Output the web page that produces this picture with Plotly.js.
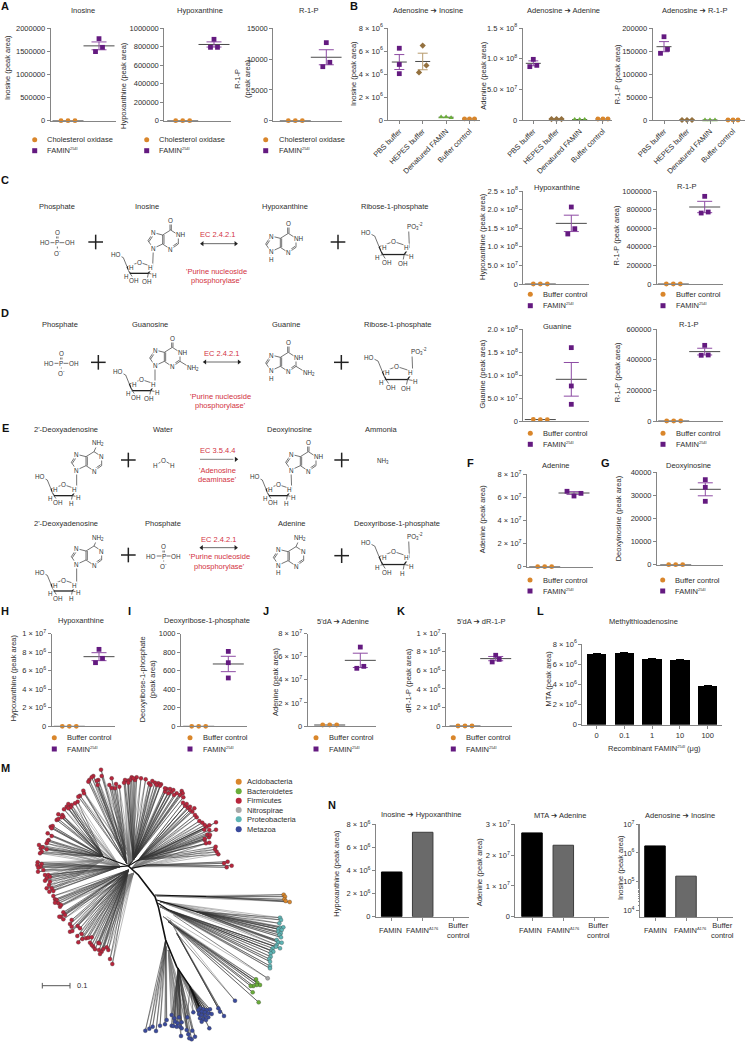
<!DOCTYPE html>
<html><head><meta charset="utf-8">
<script src="https://cdn.plot.ly/plotly-3.0.1.min.js"></script>
<style>html,body{margin:0;padding:0;background:#fff}#c{width:745px;height:1042px}</style>
</head><body><div id="c"></div>
<script>
// ---------- DATA ----------
const sci=(m,e)=>m+' × 10<sup>'+e+'</sup>';
const zeros=[0,0,0];
// A
const aInosine=[1776000,1495000,1588000], aInosineStat=[1620000,85000];
const aHypox=[881000,794000,794000], aHypoxStat=[825000,28000];
const aR1P=[12670,8770,9480], aR1PStat=[10300,1220];
// B
const bInoPBS=[6240000,4830000,4030000], bInoPBSStat=[5040000,650000];
const bInoHEPES=[6470000,4750000,4140000], bInoHEPESStat=[5090000,720000];
const bInoDen=[260000,260000,200000], bInoBuf=[90000,90000,90000];
const bAdePBS=[98900000,87000000,89100000], bAdePBSStat=[92400000,4000000];
const bAdeHEPES=[1600000,1600000,1600000], bAdeDen=[800000,800000,800000], bAdeBuf=[1600000,1600000,1600000];
const bR1PPBS=[181000,145000,153600], bR1PPBSStat=[159400,11000];
const bCats=['PBS buffer','HEPES buffer','Denatured FAMIN','Buffer control'];
// C, D
const cHypox=[207000000,134400000,148700000], cHypoxStat=[163000000,22000000];
const cR1P=[942600,763000,774000], cR1PStat=[828000,61000];
const dGua=[160000000,76400000,36400000], dGuaStat=[90900000,36700000];
const dGuaBuf=[3600000,2900000,2900000];
const dR1P=[495000,430000,432000], dR1PStat=[454000,22000];
// F, G
const fAde=[65300000,61200000,63500000], fAdeStat=[63800000,1200000];
const gDeoxy=[36820,33500,27440], gDeoxyStat=[32640,2816];
// H–K
const hHypox=[8310000,6870000,7340000], hHypoxStat=[7520000,430000];
const iDR1P=[809,687,522], iDR1PStat=[673,83];
const jAde=[68400000,50000000,51700000], jAdeStat=[56900000,6200000], jAdeBuf=[870000,870000,870000];
const kDR1P=[7630000,6910000,7190000], kDR1PStat=[7270000,230000];
// L
const lDoses=['0','0.1','1','10','100'];
const lMTA=[6980000,7140000,6480000,6380000,3830000];
const lMTAerr=[40000,50000,40000,40000,40000];
// N
const nCats=['FAMIN','FAMIN<sup><span style="font-size:4px">Δ176</span></sup>','Buffer<br>control'];
const nHypox=[3870000,7310000,0];
const nAde=[27200000,23200000,0];
const nIno=[1750000,153000,null];
// M – tree (leaves)
const firmA=[[655,283],[650,275],[645,268],[647,260],[618,250],[628,248],[614,240],[627,232],[622,224],[614,236],[630,225],[648,209],[628,210],[613,209],[620,200],[628,196],[648,187],[614,195],[607,188],[598,183],[590,172],[585,165],[577,155],[583,145],[570,150],[563,143],[555,137],[549,128],[560,132],[570,140]];
const firmR=[[683,305],[695,317],[680,322],[672,310]];
const firmB=[[545,93],[548,100],[540,105],[550,112],[530,100],[522,105],[515,95],[505,100],[495,95],[500,87],[510,87],[520,90],[495,85],[483,73],[475,70],[465,68],[457,63],[447,70],[452,75],[470,75],[480,77],[437,58],[423,55],[410,52],[395,52],[405,60],[390,60],[383,62],[375,60],[372,68],[385,68],[400,55]];
const firmC=[[345,85],[335,84],[348,72],[335,55],[358,80],[328,75],[303,29],[305,48],[295,60],[293,75],[280,48],[290,62],[268,60],[265,65],[275,52],[250,92],[240,107],[252,100],[235,110]];
const firmD=[[233,125],[225,130],[215,135],[205,132],[212,142],[200,140],[192,148],[205,145],[187,165],[175,163],[170,180],[190,170],[175,177],[185,172],[152,200],[158,198],[155,205],[143,220],[155,228],[146,240],[143,243],[140,250],[117,255],[122,265],[128,262],[125,275],[120,280],[140,268]];
const firmE=[[113,307],[112,315],[125,312],[122,320],[115,323],[130,330],[114,335],[135,345],[145,345],[150,350],[140,355],[135,362],[150,365],[147,375],[140,385],[155,385],[148,395],[160,393]];
const firmF=[[160,408],[165,418],[170,420],[175,430],[165,428],[180,440],[183,435],[190,457],[183,470],[190,478],[178,470],[195,465],[215,480],[210,492],[215,500],[210,515],[217,513],[233,498],[240,505],[245,522],[232,528],[235,547],[247,537],[258,535],[265,533],[275,532],[270,548],[280,560],[275,555],[295,548],[298,550],[285,568],[297,570],[305,575],[320,562],[325,570],[310,567],[300,582],[330,597],[337,612]];
const acido=[[851,404],[855,410],[853,418],[857,423],[869,426]];
const proteoA=[[840,473],[843,480],[838,490],[840,503],[850,502],[835,507],[845,510],[835,515],[842,520],[838,525],[843,532],[830,540],[835,547],[845,548],[830,555]];
const proteoB=[[840,565],[828,560],[818,565],[815,572],[820,575],[812,580],[812,590],[808,597],[810,605],[810,618],[810,625]];
const nitro=[[803,655]];
const bacter=[[768,658],[772,668],[780,675],[770,675],[760,678],[752,678],[758,697],[776,727]];
const metaA=[[600,745],[610,748],[620,750],[630,748],[595,750],[605,755],[615,757],[625,760],[635,762],[597,762],[605,765],[615,768],[625,772],[600,775],[610,778],[618,780],[605,785],[580,757],[562,772],[628,805]];
const metaB=[[537,772],[523,775],[515,765],[525,785],[515,797],[520,798],[533,790],[545,787],[530,800],[540,800],[545,805],[560,810],[577,812],[565,823],[585,830],[575,838],[568,835],[543,828]];
const metaC=[[500,780],[495,793],[480,797],[468,813],[458,800],[448,806],[436,812]];
const metaD=[[705,722],[655,745],[660,755],[672,768]];
const treeBackbone=[[385,318],[415,345],[465,410],[475,440],[497,540],[530,620],[570,680],[600,745]];
const treeBranches=[[[465,405],[620,410]],[[470,420],[590,455]],[[310,290],[385,318]],[[360,320],[385,318]],[[415,300],[385,318]],[[400,300],[385,318]],[[440,315],[395,325]],[[475,430],[505,450]]];
const treeLegend=['Acidobacteria','Bacteroidetes','Firmicutes','Nitrospirae','Proteobacteria','Metazoa'];

// ---------- STYLE ----------
const W=745,H=1042,FONT='"Liberation Sans", Arial, sans-serif',TXT='#2e2e2e';
const ORANGE='#d9862b',PURPLE='#641a80',EPURPLE='#8d4ba3',BROWN='#94713f',GREEN='#6aad3a',AXC='#858585';
const TREEC={a:'#d9862b',b:'#6aad3a',f:'#b8263c',n:'#a8a8a8',p:'#5fb5b5',m:'#3a4a9c'};

const traces=[],annotations=[],layout={};
function txt(x,y,text,o={}){const a={xref:'paper',yref:'paper',x:x/W,y:1-y/H,text,showarrow:false,
  xanchor:o.anchor||'center',yanchor:'middle',textangle:o.rot||0,align:'center',
  font:{family:FONT,size:o.size||7.5,color:o.color||TXT,weight:o.bold?700:400}};
  if(o.bg){a.bgcolor=o.bg;a.borderpad=0;}
  annotations.push(a);}

layout.xaxis={domain:[0,1],range:[0,W],visible:false,fixedrange:true};
layout.yaxis={domain:[0,1],range:[H,0],visible:false,fixedrange:true};
layout.xaxis2={domain:[0,320/W],range:[0,960],visible:false,anchor:'y2'};
layout.yaxis2={domain:[0,282/H],range:[846,0],visible:false,anchor:'x2'};

// ---------- PANELS ----------
const STY={o:{c:ORANGE,s:'circle',e:ORANGE},p:{c:PURPLE,s:'square',e:EPURPLE},b:{c:BROWN,s:'diamond',e:'#b79a6c'},g:{c:GREEN,s:'triangle-up',e:GREEN}};
let axN=3;
function newAxes(box,xr,extraX,extraY){
  const [l,r,t,z]=box,n=axN++;
  layout['xaxis'+n]=Object.assign({domain:[l/W,r/W],range:xr,anchor:'y'+n,showline:true,linecolor:AXC,linewidth:1,zeroline:false,showgrid:false,
    ticks:'',showticklabels:false,tickfont:{family:FONT,size:7.5,color:TXT},ticklen:3,tickcolor:AXC,fixedrange:true},extraX||{});
  layout['yaxis'+n]=Object.assign({domain:[1-z/H,1-t/H],anchor:'x'+n,showline:true,linecolor:AXC,linewidth:1,zeroline:false,showgrid:false,
    ticks:'outside',ticklen:3,tickcolor:AXC,tickfont:{family:FONT,size:7.5,color:TXT},tickmode:'array',fixedrange:true},extraY||{});
  return n;
}
function dots(p){
  const [l,r]=p.box,[c1,c2]=p.c,u=c2-c1;
  const hi=p.cats?p.cats.length:2;
  const xr=[1-(c1-l)/u,hi+(r-(c1+u*(hi-1)))/u];
  const cats=p.cats?{ticks:'outside',showticklabels:true,tickmode:'array',tickvals:p.cats.map((_,i)=>i+1),ticktext:p.cats,tickangle:-45}:{};
  const n=newAxes(p.box,xr,cats,{range:[0,p.ymax],tickvals:p.tv,ticktext:p.tl});
  p.groups.forEach((g,i)=>{
    const st=STY[g.k],c=i+1,hw=(p.hw||15.5)/u;
    const m=g.stat?g.stat[0]:g.vals.reduce((a,b)=>a+b,0)/3;
    traces.push({type:'scatter',mode:'lines',xaxis:'x'+n,yaxis:'y'+n,x:[c-hw,c+hw],y:[m,m],line:{color:'#4a4a4a',width:1},cliponaxis:false,hoverinfo:'skip'});
    if(g.stat)traces.push({type:'scatter',mode:'markers',xaxis:'x'+n,yaxis:'y'+n,x:[c],y:[m],marker:{size:1,opacity:0},cliponaxis:false,
      error_y:{type:'data',array:[g.stat[1]],color:st.e,thickness:1,width:p.cap||7.5}});
    traces.push({type:'scatter',mode:'markers',xaxis:'x'+n,yaxis:'y'+n,x:g.vals.map((_,j)=>c+(g.j[j])/u),y:g.vals,cliponaxis:false,
      marker:{color:st.c,symbol:st.s,size:4.8}});
  });
}
const jO=[-7,0,7],jP=[0,-3.5,3.5],jV=[0,0,0],jL=[-5,0,5];
const tenth=['0','5.0 × 10<sup>7</sup>','1.0 × 10<sup>8</sup>','1.5 × 10<sup>8</sup>','2.0 × 10<sup>8</sup>','2.5 × 10<sup>8</sup>'];
const sci6=['0',sci(2,6),sci(4,6),sci(6,6),sci(8,6)];
const sci7=['0',sci(2,7),sci(4,7),sci(6,7),sci(8,7)];
const num=a=>a.map(String);
const two=(vals,stat,buf)=>[{k:'o',vals:buf||zeros,j:jO},{k:'p',vals,stat,j:jP}];

dots({box:[50.7,116,28.3,120.7],c:[68,99],ymax:2000000,tv:[0,500000,1000000,1500000,2000000],tl:num([0,500000,1000000,1500000,2000000]),groups:two(aInosine,aInosineStat)});
dots({box:[164.3,230.7,28.3,120.7],c:[182.7,214],ymax:1000000,tv:[0,200000,400000,600000,800000,1000000],tl:num([0,200000,400000,600000,800000,1000000]),groups:two(aHypox,aHypoxStat)});
dots({box:[273.3,341.7,28.3,120.7],c:[295.3,326.3],ymax:15000,tv:[0,5000,10000,15000],tl:num([0,5000,10000,15000]),groups:two(aR1P,aR1PStat)});
const hb=7.5,capb=5;
dots({box:[388.3,480,28,120],c:[399.3,422.7],hw:hb,cap:capb,cats:bCats,ymax:8000000,tv:[0,2e6,4e6,6e6,8e6],tl:sci6,
  groups:[{k:'p',vals:bInoPBS,stat:bInoPBSStat,j:jV},{k:'b',vals:bInoHEPES,stat:bInoHEPESStat,j:[0,3.7,-3.7]},{k:'g',vals:bInoDen,j:jL},{k:'o',vals:bInoBuf,j:jL}]});
dots({box:[522.7,611.7,28,120],c:[533.3,556.5],hw:hb,cap:capb,cats:bCats,ymax:150000000,tv:[0,5e7,1e8,1.5e8],tl:['0','5.0 × 10<sup>7</sup>','1.0 × 10<sup>8</sup>','1.5 × 10<sup>8</sup>'],
  groups:[{k:'p',vals:bAdePBS,stat:bAdePBSStat,j:[0,-3.5,3.5]},{k:'b',vals:bAdeHEPES,j:jL},{k:'g',vals:bAdeDen,j:jL},{k:'o',vals:bAdeBuf,j:jL}]});
dots({box:[652.7,744.5,28,120],c:[664,687],hw:hb,cap:capb,cats:bCats,ymax:200000,tv:[0,50000,100000,150000,200000],tl:num([0,50000,100000,150000,200000]),
  groups:[{k:'p',vals:bR1PPBS,stat:bR1PPBSStat,j:[0,-3.5,3.5]},{k:'b',vals:zeros,j:jL},{k:'g',vals:zeros,j:jL},{k:'o',vals:zeros,j:jL}]});
dots({box:[523.3,589.3,191,284],c:[540.3,571.3],ymax:250000000,tv:[0,5e7,1e8,1.5e8,2e8,2.5e8],tl:tenth,groups:two(cHypox,cHypoxStat)});
dots({box:[657,722.7,191,284],c:[673.3,704.7],ymax:1000000,tv:[0,200000,400000,600000,800000,1000000],tl:num([0,200000,400000,600000,800000,1000000]),groups:two(cR1P,cR1PStat)});
dots({box:[523.3,589.3,329.3,421],c:[540.3,571.3],ymax:200000000,tv:[0,5e7,1e8,1.5e8,2e8],tl:tenth.slice(0,5),
  groups:[{k:'o',vals:dGuaBuf,j:jO},{k:'p',vals:dGua,stat:dGuaStat,j:jV}]});
dots({box:[657,723.3,329.3,421],c:[673.7,704.7],ymax:600000,tv:[0,200000,400000,600000],tl:num([0,200000,400000,600000]),groups:two(dR1P,dR1PStat)});
dots({box:[527,593.3,474.3,566.7],c:[544.7,574],ymax:80000000,tv:[0,2e7,4e7,6e7,8e7],tl:sci7,
  groups:[{k:'o',vals:zeros,j:jO},{k:'p',vals:fAde,stat:fAdeStat,j:jO}]});
dots({box:[657,722.7,472.3,564.7],c:[675.7,705.3],ymax:40000,tv:[0,10000,20000,30000,40000],tl:num([0,10000,20000,30000,40000]),
  groups:[{k:'o',vals:zeros,j:jO},{k:'p',vals:gDeoxy,stat:gDeoxyStat,j:jV}]});
dots({box:[51.7,115,633.7,726.3],c:[69.3,99],ymax:10000000,tv:[0,2e6,4e6,6e6,8e6,1e7],tl:sci6.concat(sci(1,7)),groups:two(hHypox,hHypoxStat)});
dots({box:[181,246.7,633.7,726.3],c:[198.7,228.3],ymax:1000,tv:[0,200,400,600,800,1000],tl:num([0,200,400,600,800,1000]),
  groups:[{k:'o',vals:zeros,j:jO},{k:'p',vals:iDR1P,stat:iDR1PStat,j:jV}]});
dots({box:[307.7,376,633.7,726],c:[329.7,360.3],ymax:80000000,tv:[0,2e7,4e7,6e7,8e7],tl:sci7,
  groups:[{k:'o',vals:jAdeBuf,j:jO},{k:'p',vals:jAde,stat:jAdeStat,j:jP}]});
dots({box:[446,512.3,633.3,726],c:[465,495.7],ymax:10000000,tv:[0,2e6,4e6,6e6,8e6,1e7],tl:sci6.concat(sci(1,7)),groups:two(kDR1P,kDR1PStat)});
(function(){const u=27.75,n=newAxes([582.3,721.7,644,724.7],[1-(596.7-582.3)/u,5+(721.7-707.7)/u],
  {ticks:'outside',showticklabels:true,tickmode:'array',tickvals:[1,2,3,4,5],ticktext:lDoses},
  {range:[0,8000000],tickvals:[0,2e6,4e6,6e6,8e6],ticktext:sci6});
  traces.push({type:'bar',xaxis:'x'+n,yaxis:'y'+n,x:[1,2,3,4,5],y:lMTA,width:0.7,marker:{color:'#000'},
    error_y:{type:'data',array:lMTAerr,color:'#000',thickness:1,width:4}});})();
function nBars(box,cs,ys,yax,labels){
  const u=cs[1]-cs[0],n=newAxes(box,[1-(cs[0]-box[0])/u,1+(box[1]-cs[0])/u],
    {ticks:'outside',tickmode:'array',tickvals:[1,2,3],ticktext:nCats,showticklabels:false},yax);
  traces.push({type:'bar',xaxis:'x'+n,yaxis:'y'+n,x:[1,2,3],y:ys,width:20.5/u,
    marker:{color:['#000','#6a6a6a','#888'],line:{color:['#000','#3c3c3c','#888'],width:[1,1,0]}}});
  nCats.forEach((t,i)=>annotations.push({xref:'x'+n,yref:'paper',x:i+1,xshift:labels[i],y:1-930/H,yanchor:'middle',xanchor:'center',
    text:t,showarrow:false,align:'center',font:{family:FONT,size:7.5,color:TXT}}));
}
nBars([376,469,824.3,916.7],[391.7,422.7],nHypox,{range:[0,8000000],tickvals:[0,2e6,4e6,6e6,8e6],ticktext:sci6},[-1,0,4.5]);
nBars([515.3,609.3,824.3,916.7],[532,563.3],nAde,{range:[0,30000000],tickvals:[0,1e7,2e7,3e7],ticktext:['0',sci(1,7),sci(2,7),sci(3,7)]},[-2,0,4]);
nBars([640,732.7,824.3,917],[655,686],nIno,{type:'log',range:[3.756,7],tickvals:[1e4,1e5,1e6,1e7],ticktext:['10<sup>4</sup>','10<sup>5</sup>','10<sup>6</sup>','10<sup>7</sup>'],
  minor:{ticks:'outside',ticklen:1.5,tickcolor:AXC,showgrid:false}},[0,4,5.5]);

// ---------- TEXT ----------
const AR=' <span style="font-family:DejaVu Sans">➔</span> ';
[[83,11,'Inosine'],[199.7,11,'Hypoxanthine'],[309.3,11,'R-1-P'],[428,11,'Adenosine'+AR+'Inosine'],[563.3,11,'Adenosine'+AR+'Adenine'],[695,11,'Adenosine'+AR+'R-1-P'],
 [557.3,187.3,'Hypoxanthine'],[687.3,187,'R-1-P'],[556.7,326.3,'Guanine'],[689.3,324.7,'R-1-P'],[556.3,465.3,'Adenine'],[688.3,465.3,'Deoxyinosine'],
 [81.3,620.3,'Hypoxanthine'],[207,620.3,'Deoxyribose-1-phosphate'],[343.3,621,"5'dA"+AR+'Adenine'],[481,621,"5'dA"+AR+'dR-1-P'],[643.7,621,'Methylthioadenosine'],
 [421.7,814.7,'Inosine'+AR+'Hypoxanthine'],[560,815.7,'MTA'+AR+'Adenine'],[680,815.7,'Adenosine'+AR+'Inosine']
].forEach(a=>txt(a[0],a[1],a[2]));
[[7,68,'Inosine (peak area)'],[124,86,'Hypoxanthine (peak area)'],[242,79,'R-1-P<br>(peak area)'],[354,74,'Inosine (peak area)'],[482.7,76,'Adenine (peak area)'],[618.3,74,'R-1-P (peak area)'],
 [482.3,236.7,'Hypoxanthine (peak area)'],[616.7,235.7,'R-1-P (peak area)'],[482.3,374.3,'Guanine (peak area)'],[618.3,372,'R-1-P (peak area)'],[482.3,519,'Adenine (peak area)'],[618.3,518,'Deoxyinosine (peak area)'],
 [13.3,678,'Hypoxanthine (peak area)'],[147.3,679,'Deoxyribose-1-phosphate<br>(peak area)'],[275.3,681.7,'Adenine (peak area)'],[407.7,680,'dR-1-P (peak area)'],[548.3,678.3,'MTA (peak area)'],
 [335.7,873,'Hypoxanthine (peak area)'],[479,872.3,'Adenine (peak area)'],[620,868,'Inosine (peak area)']
].forEach(a=>txt(a[0],a[1],a[2],{rot:-90}));
const SUP254='<sup><span style="font-size:4px">254I</span></sup>';
txt(654.3,748.7,'Recombinant FAMIN'+SUP254+' (μg)');
[['A',5,6],['B',354,6],['C',5,180],['D',5,312.7],['E',5,428],['F',470,462.7],['G',605.7,463],['H',5,610.7],['I',129.7,611],['J',265.7,611],['K',400.7,611],['L',540.7,611],['M',5.7,768],['N',332,805]]
 .forEach(a=>txt(a[1],a[2],a[0],{size:11,bold:true,color:'#111'}));

// ---------- LEGEND KEYS ----------
const FAM='FAMIN'+SUP254;
const lg={ox:[],oy:[],px:[],py:[]};
function key(mx,tx,y1,y2,label){lg.ox.push(mx);lg.oy.push(y1);lg.px.push(mx);lg.py.push(y2);txt(tx,y1,label,{anchor:'left'});txt(tx,y2,FAM,{anchor:'left'});}
key(34.7,45,139.7,150.7,'Cholesterol oxidase');key(146.7,157.3,139.7,150.7,'Cholesterol oxidase');key(265.7,276.7,139.7,150.7,'Cholesterol oxidase');
key(530.3,541.3,294.3,305.7,'Buffer control');key(663,673.7,294.3,305.7,'Buffer control');
key(530.3,541.3,433.3,444.3,'Buffer control');key(663,673.7,433.3,444.3,'Buffer control');
key(530,540.7,580,591,'Buffer control');key(662.7,673.3,580,591,'Buffer control');
key(54.3,64.7,737.7,749,'Buffer control');key(190,200.7,737.7,749,'Buffer control');key(316,326.7,737.7,749,'Buffer control');key(453.3,463.7,737.7,749,'Buffer control');
traces.push({type:'scatter',mode:'markers',x:lg.ox,y:lg.oy,marker:{color:ORANGE,symbol:'circle',size:5}});
traces.push({type:'scatter',mode:'markers',x:lg.px,y:lg.py,marker:{color:PURPLE,symbol:'square',size:5}});

// ---------- CHEMISTRY ----------
const thin={x:[],y:[]},thick={x:[],y:[]},plus={x:[],y:[]},arrow={x:[],y:[]},gray={x:[],y:[]},head={x:[],y:[],s:[]};
const RED='#d2323f';
function seg(b,o,x1,y1,x2,y2){b.x.push(x1/3+o[0],x2/3+o[0],null);b.y.push(y1/3+o[1],y2/3+o[1],null);}
function L(o,x,y,t){txt(x/3+o[0],y/3+o[1],t,{size:6.3,color:'#333',bg:'#fff'});}
function purine(o,cx,cy,k){
  const A={C6:[0,0],N1:[23,15],C2:[23,42],N3:[0,58],C4:[-24,42],C5:[-24,15],N7:[-52,8],C8:[-68,32],N9:[-52,55]};
  const b=(p,q,dx=0,dy=0)=>seg(thin,o,cx+A[p][0]+dx,cy+A[p][1]+dy,cx+A[q][0]+dx,cy+A[q][1]+dy);
  [['C6','N1'],['N1','C2'],['C2','N3'],['N3','C4'],['C4','C5'],['C5','C6'],['C5','N7'],['N7','C8'],['C8','N9'],['N9','C4']].forEach(p=>b(p[0],p[1]));
  b('C4','C5',4,0);b('C2','N3',-3,-3);b('N7','C8',3,3);
  L(o,cx+A.N3[0],cy+A.N3[1],'N');L(o,cx+A.N7[0],cy+A.N7[1],'N');L(o,cx+A.N9[0],cy+A.N9[1],'N');
  if(k.ade){seg(thin,o,cx,cy,cx+8,cy-18);L(o,cx+11,cy-25,'NH<sub>2</sub>');L(o,cx+23,cy+15,'N');}
  else{seg(thin,o,cx-2,cy,cx-2,cy-22);seg(thin,o,cx+2,cy,cx+2,cy-22);L(o,cx,cy-28,'O');L(o,cx+31,cy+15,'NH');}
  if(k.gua){seg(thin,o,cx+23,cy+42,cx+44,cy+55);L(o,cx+61,cy+63,'NH<sub>2</sub>');}
  if(k.free){seg(thin,o,cx-52,cy+55,cx-52,cy+70);L(o,cx-52,cy+77,'H');}
}
function sugar(o,cx,cy,s,deoxy){
  const P={C1:[0,0],O:[-40,-13],C4:[-77,0],C3:[-68,20],C2:[-13,20],C5:[-88,-27]};
  const p=n=>[cx+P[n][0]*s,cy+P[n][1]*s];
  const S=(b,a,c)=>{const A=p(a),B=p(c);seg(b,o,A[0],A[1],B[0],B[1]);};
  S(thin,'C1','O');S(thin,'O','C4');S(thin,'C4','C5');S(thick,'C3','C2');S(thick,'C4','C3');S(thick,'C2','C1');
  const A=p('C5');seg(thin,o,A[0],A[1],cx-100*s,cy-33*s);
  L(o,cx-40*s,cy-13*s,'O');L(o,cx-110*s,cy-36*s,'HO');
  L(o,cx-63*s,cy+2*s,'H');L(o,cx-6*s,cy+3*s,'H');
  const C=p('C3'),D=p('C2');
  seg(thin,o,C[0],C[1],cx-79*s,cy+24*s);L(o,cx-80*s,cy+28*s,'H');
  seg(thin,o,C[0],C[1],cx-58*s,cy+35*s);L(o,cx-56*s,cy+41*s,'OH');
  seg(thin,o,D[0],D[1],cx+3*s,cy+23*s);L(o,cx+6*s,cy+25*s,'H');
  seg(thin,o,D[0],D[1],cx-16*s,cy+35*s);L(o,cx-17*s,cy+43*s,deoxy?'H':'OH');
}
function nucleoside(o,cx,cy,k,c1x,c1y,deoxy){purine(o,cx,cy,k);seg(thin,o,cx-52,cy+55,c1x,c1y);sugar(o,c1x,c1y,1,deoxy);}
function r1p(o,c1x,c1y,deoxy){sugar(o,c1x,c1y,1.18,deoxy);seg(thin,o,c1x,c1y,c1x-2,c1y-52);L(o,c1x+18,c1y-62,'PO<sub>3</sub><sup>-2</sup>');}
function phosphate(o,x,y){seg(thin,o,x-22,y,x+22,y);seg(thin,o,x-2,y-22,x-2,y);seg(thin,o,x+2,y-22,x+2,y);seg(thin,o,x,y,x,y+22);
  L(o,x,y,'P');L(o,x,y-30,'O');L(o,x,y+30,'O<sup>-</sup>');L(o,x-37,y,'HO');L(o,x+38,y,'OH');}
function plusSign(o,x,y){seg(plus,o,x-22,y,x+22,y);seg(plus,o,x,y-22,x,y+22);}
function dbl(o,x1,x2,y){seg(arrow,o,x1,y,x2,y);head.x.push(x1/3+o[0],x2/3+o[0]);head.y.push(y/3+o[1],y/3+o[1]);head.s.push('triangle-left','triangle-right');}
function names(o,list){list.forEach(a=>txt(a[1]/3+o[0],a[2]/3+o[1],a[0]));}
function reds(o,list){list.forEach(a=>txt(a[1]/3+o[0],a[2]/3+o[1],a[0],{color:RED}));}
const oC=[0,170];
names(oC,[['Phosphate',171,109],['Inosine',441,109],['Hypoxanthine',854,109],['Ribose-1-phosphate',1185,109]]);
reds(oC,[['EC 2.4.2.1',653,195],["'Purine nucleoside",651,304],["phosphorylase'",651,331]]);
phosphate(oC,172,218);plusSign(oC,287,216);nucleoside(oC,512,180,{},458,290);dbl(oC,607,707,221);purine(oC,865,190,{free:true});plusSign(oC,1014,216);r1p(oC,1228,230);
const oD=[0,300];
names(oD,[['Phosphate',181,73],['Guanosine',449,73],['Guanine',857,73],['Ribose-1-phosphate',1193,73],
 ["2'-Deoxyadenosine",198,389],['Water',488,389],['Deoxyinosine',869,389],['Ammonia',1144,389],
 ["2'-Deoxyadenosine",198,670],['Phosphate',490,670],['Adenine',875,670],['Deoxyribose-1-phosphate',1190,670]]);
reds(oD,[['EC 2.4.2.1',663,161],["'Purine nucleoside",662,289],["phosphorylase'",662,317],['EC 3.5.4.4',652,452],["'Adenosine",652,511],["deaminase'",652,539],
 ['EC 2.4.2.1',655,717],["'Purine nucleoside",657,770],["phosphorylase'",657,798]]);
phosphate(oD,184,190);plusSign(oD,295,187);nucleoside(oD,517,142,{gua:true},465,252);dbl(oD,615,717,186);purine(oD,865,157,{gua:true,free:true});plusSign(oD,1024,187);r1p(oD,1238,215);
nucleoside(oD,282,455,{ade:true},230,567,true);plusSign(oD,385,480);
seg(thin,oD,467,495,491,481);seg(thin,oD,491,481,516,495);L(oD,491,481,'O');L(oD,467,495,'H');L(oD,516,495,'H');
seg(gray,oD,600,478,700,478);head.x.push(708/3+oD[0]);head.y.push(478/3+oD[1]);head.s.push('triangle-right');
nucleoside(oD,925,455,{},875,567,true);plusSign(oD,1025,480);L(oD,1149,482,'NH<sub>3</sub>');
nucleoside(oD,282,738,{ade:true},230,853,true);plusSign(oD,385,765);phosphate(oD,491,768);dbl(oD,605,707,743);purine(oD,888,740,{ade:true,free:true});plusSign(oD,1025,767);r1p(oD,1228,770,true);

traces.push({type:'scatter',mode:'lines',x:thin.x,y:thin.y,line:{color:'#3a3a3a',width:0.7},hoverinfo:'skip'});
traces.push({type:'scatter',mode:'lines',x:thick.x,y:thick.y,line:{color:'#222',width:1.3},hoverinfo:'skip'});
traces.push({type:'scatter',mode:'lines',x:plus.x,y:plus.y,line:{color:'#222',width:1.5},hoverinfo:'skip'});
traces.push({type:'scatter',mode:'lines',x:arrow.x,y:arrow.y,line:{color:'#444',width:0.8},hoverinfo:'skip'});
traces.push({type:'scatter',mode:'lines',x:gray.x,y:gray.y,line:{color:'#999',width:1.3},hoverinfo:'skip'});
traces.push({type:'scatter',mode:'markers',x:head.x,y:head.y,marker:{color:'#222',size:4.5,symbol:head.s},hoverinfo:'skip'});

// ---------- TREE ----------
const leafTraces=[];
function pts(l,col){leafTraces.push({type:'scatter',mode:'markers',xaxis:'x2',yaxis:'y2',x:l.map(p=>p[0]),y:l.map(p=>p[1]),
  marker:{color:col,size:4,line:{color:'#333',width:0.3}},hoverinfo:'skip'});}
function fan(hub,hub2,leaves,col){
  const x=[],y=[],x2=[],y2=[];
  leaves.forEach(l=>{x.push(hub[0],l[0],null);y.push(hub[1],l[1],null);x2.push(hub2[0],l[0],null);y2.push(hub2[1],l[1],null);});
  traces.push({type:'scatter',mode:'lines',xaxis:'x2',yaxis:'y2',x:x2,y:y2,line:{color:'#777',width:0.5},hoverinfo:'skip'});
  traces.push({type:'scatter',mode:'lines',xaxis:'x2',yaxis:'y2',x,y,line:{color:'#333',width:0.6},hoverinfo:'skip'});
  pts(leaves,col);
}
fan([415,300],[395,325],firmA,TREEC.f);fan([440,315],[415,320],firmR,TREEC.f);fan([400,300],[385,315],firmB,TREEC.f);fan([380,310],[395,300],firmC,TREEC.f);
fan([310,290],[360,320],firmD,TREEC.f);fan([360,320],[310,300],firmE,TREEC.f);fan([385,330],[400,340],firmF,TREEC.f);
fan([620,410],[470,408],acido,TREEC.a);fan([590,455],[480,425],proteoA,TREEC.p);fan([505,450],[480,440],proteoB,TREEC.p);fan([520,465],[500,470],nitro,TREEC.n);fan([505,485],[490,470],bacter,TREEC.b);
fan([570,680],[540,640],metaA,TREEC.m);fan([535,625],[505,570],metaB,TREEC.m);fan([497,540],[500,560],metaC,TREEC.m);fan([530,520],[510,480],metaD,TREEC.m);
traces.push({type:'scatter',mode:'lines',xaxis:'x2',yaxis:'y2',x:treeBackbone.map(p=>p[0]),y:treeBackbone.map(p=>p[1]),line:{color:'#111',width:1.6},hoverinfo:'skip'});
treeBranches.forEach(b=>traces.push({type:'scatter',mode:'lines',xaxis:'x2',yaxis:'y2',x:b.map(p=>p[0]),y:b.map(p=>p[1]),line:{color:'#111',width:1.1},hoverinfo:'skip'}));
leafTraces.forEach(t=>traces.push(t));
const legY=[781.7,791.3,800.7,810,819.3,829.3],legC=[TREEC.a,TREEC.b,TREEC.f,TREEC.n,TREEC.p,TREEC.m];
traces.push({type:'scatter',mode:'markers',x:legY.map(()=>238.7),y:legY,marker:{color:legC,size:6}});
treeLegend.forEach((t,i)=>txt(244.7,legY[i],t,{anchor:'left'}));
traces.push({type:'scatter',mode:'lines+markers',x:[42.3,70],y:[985.7,985.7],line:{color:'#555',width:1},marker:{symbol:'line-ns',size:4,color:'#555',line:{color:'#555',width:1}}});
txt(75,985.7,'0.1',{anchor:'left'});

Object.assign(layout,{width:W,height:H,margin:{l:0,r:0,t:0,b:0},showlegend:false,autosize:false,paper_bgcolor:'#fff',plot_bgcolor:'rgba(0,0,0,0)',
  bargap:0,annotations,font:{family:FONT,size:7.5,color:TXT}});
Plotly.newPlot('c',traces,layout,{displayModeBar:false,staticPlot:true});
</script></body></html>
